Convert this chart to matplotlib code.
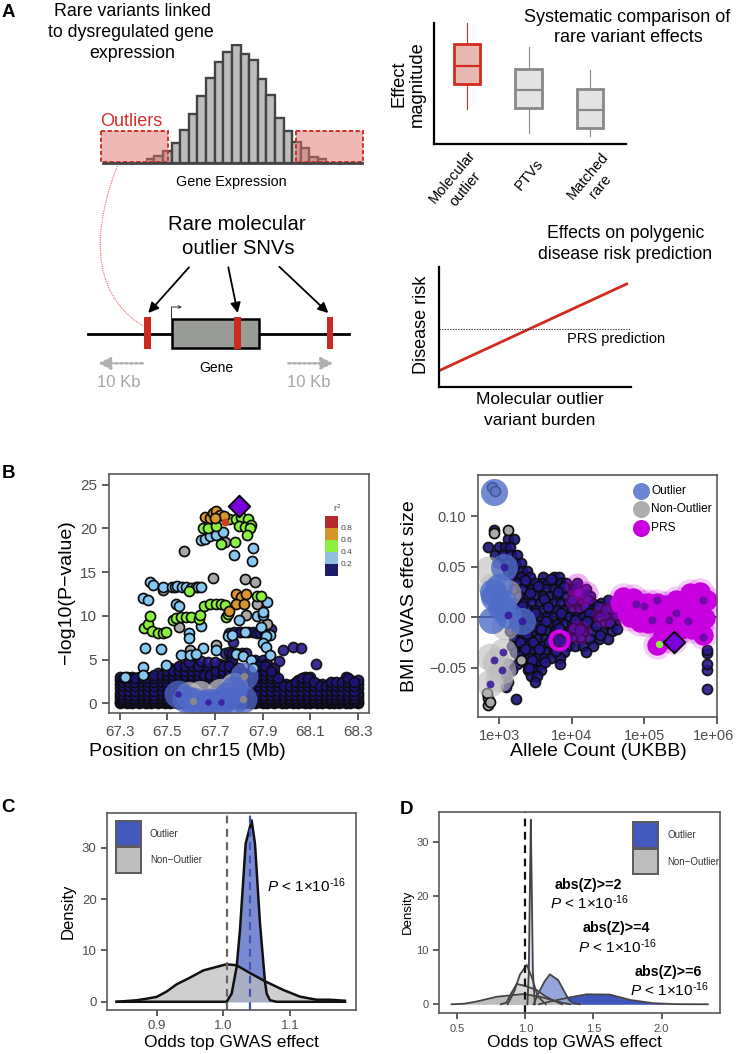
import matplotlib
matplotlib.use('Agg')
import matplotlib.pyplot as plt
from matplotlib.patches import Rectangle, PathPatch
from matplotlib.path import Path
from matplotlib.transforms import ScaledTranslation

plt.rcParams['font.family'] = ['Liberation Sans', 'DejaVu Sans']
plt.rcParams['mathtext.fontset'] = 'custom'
plt.rcParams['mathtext.rm'] = 'Liberation Sans'
plt.rcParams['mathtext.it'] = 'Liberation Sans:italic'
plt.rcParams['mathtext.bf'] = 'Liberation Sans:bold'

W, H = 736, 1054

# panel A histogram
hist_heights = [3.3, 6.7, 11.7, 20, 33, 48.7, 66.7, 84.7, 101, 110.7, 118, 109, 102.7, 83.7, 67.3, 45, 31.7, 21, 14.3, 6, 3.3]

# panel A boxes
box_labels = ['Molecular\noutlier', 'PTVs', 'Matched\nrare']
box_whishi = [0.995, 0.797, 0.608]
box_q3 = [0.822, 0.622, 0.455]
box_med = [0.641, 0.447, 0.279]
box_q1 = [0.493, 0.301, 0.132]
box_whislo = [0.29, 0.096, 0.068]

# panel A risk line
burden = [0.009, 0.979]
risk = [0.144, 0.857]
prs_level = 0.481

# panel B left, position (Mb) and -log10(P)
blue_x = [67.425, 67.44, 67.48, 67.52, 67.53, 67.54, 67.56, 67.58, 67.6, 67.62, 67.63, 67.64, 67.397, 67.42,
          67.537, 67.55, 67.407, 67.474, 67.495, 67.397, 67.395, 67.59, 67.59, 67.64, 67.65, 67.705, 67.64,
          67.66, 67.68, 67.705, 67.735, 67.78, 67.86, 67.855, 67.8, 67.755, 67.77, 67.825, 67.875, 67.9, 67.9,
          67.92, 67.895, 67.93, 67.915, 67.9, 67.915, 67.93, 67.558, 67.593, 67.62, 67.79, 67.817, 67.852,
          67.86, 67.32]
blue_y = [13.9, 13.5, 13.3, 13.3, 13.3, 13.4, 13.3, 13.3, 13.2, 13.3, 13.3, 13.3, 12.05, 11.8,
          11.3, 11.15, 6.35, 6.25, 4.4, 4.2, 3.2, 8.05, 7.5, 8.85, 6.3, 6.1, 18.7,
          18.8, 19.1, 19.2, 19.6, 16.9, 17.75, 16.25, 9.5, 7.7, 7.8, 8.1, 10.0, 10.1, 10.45,
          11.55, 8.75, 7.8, 7.7, 6.85, 6.45, 5.5, 5.5, 5.5, 5.6, 5.6, 5.4, 4.95,
          4.0, 3.0]
green_x = [67.523, 67.537, 67.555, 67.58, 67.6, 67.632, 67.635, 67.652, 67.68, 67.705, 67.727, 67.74, 67.747,
           67.755, 67.4, 67.418, 67.425, 67.436, 67.46, 67.48, 67.495, 67.59, 67.876, 67.892, 67.65, 67.67,
           67.705, 67.726, 67.783, 67.76, 67.79, 67.81, 67.84, 67.803, 67.825, 67.85, 67.846, 67.835]
green_y = [9.5, 9.7, 9.85, 9.9, 9.85, 9.6, 10.1, 11.1, 11.3, 11.35, 11.3, 11.2, 9.9,
           10.25, 8.65, 9.1, 10.0, 8.3, 8.0, 8.05, 8.15, 12.85, 12.3, 12.3, 20.0, 20.0,
           20.3, 18.25, 18.45, 21.1, 21.1, 21.3, 21.1, 20.3, 20.15, 20.35, 20.0, 19.2]
orange_x = [67.656, 67.677, 67.69, 67.705, 67.72, 67.736, 67.7, 67.79, 67.81, 67.83, 67.79, 67.82, 67.76]
orange_y = [21.3, 21.2, 21.7, 22.0, 21.5, 21.35, 21.2, 12.55, 12.2, 12.45, 11.4, 11.3, 10.55]
red_x = [67.742]
red_y = [20.75]
gray_x = [67.568, 67.69, 67.825, 67.87, 67.48, 67.55, 67.705, 67.83, 67.876, 67.596, 67.92, 67.74]
gray_y = [17.45, 14.35, 14.2, 13.9, 12.9, 8.75, 6.65, 10.1, 11.3, 6.1, 9.1, 18.45]
navy_x = [67.986, 68.03, 68.063, 68.126, 67.97, 67.775, 67.935, 67.76, 67.78, 67.8, 67.81, 67.84, 67.86,
          67.875, 67.89, 67.91, 67.74, 67.76, 67.77, 67.79, 67.815, 67.83, 67.59, 67.64, 67.67, 67.7]
navy_y = [6.15, 6.4, 6.3, 4.55, 4.85, 7.0, 8.55, 8.0, 8.1, 8.1, 8.2, 8.2, 8.1,
          8.0, 8.0, 7.9, 5.8, 5.9, 5.8, 5.8, 5.8, 5.7, 4.7, 4.8, 4.7, 4.7]
mass_x = [67.30, 67.33, 67.35, 67.38, 67.41, 67.43, 67.46, 67.49, 67.51, 67.54, 67.56, 67.59, 67.62, 67.64,
          67.67, 67.69, 67.72, 67.75, 67.77, 67.80, 67.82, 67.85, 67.87, 67.90, 67.92, 67.95, 67.98, 68.0,
          68.03, 68.05, 68.08, 68.1, 68.13, 68.15, 68.18, 68.2, 68.22, 68.25, 68.27, 68.3]
mass_top = [3, 3, 3, 3, 3, 3.3, 3.8, 3.8, 4.2, 4.4, 4.4, 4.2, 4.6, 4.2,
            4.0, 3.5, 4.6, 4.8, 5.0, 4.2, 3.5, 3.5, 5, 5, 4.8, 4.2, 2.5, 2.2,
            2.5, 2.8, 3.1, 3.1, 2.6, 2.4, 2.4, 2.6, 2.6, 3.0, 2.9, 2.9]
mass_levels = [0, 0.2, 0.5, 0.8, 1.2, 1.7, 2.2, 2.7, 3.0, 3.5, 4.0, 4.5, 5.0]
mass2_x = [67.315, 67.34, 67.365, 67.395, 67.42, 67.445, 67.475, 67.5, 67.525, 67.55, 67.575, 67.605, 67.63, 67.655,
           67.68, 67.705, 67.735, 67.76, 67.785, 67.81, 67.835, 67.86, 67.885, 67.91, 67.935, 67.965, 67.99, 68.015,
           68.04, 68.065, 68.09, 68.115, 68.14, 68.165, 68.19, 68.21, 68.235, 68.26, 68.285]
mass2_top = [2.9, 2.9, 2.9, 2.9, 3.0, 3.4, 3.7, 4.0, 4.2, 4.3, 4.3, 4.3, 4.4, 3.7,
             3.5, 3.8, 4.4, 4.6, 4.2, 3.0, 3.0, 3.6, 4.7, 4.7, 4.0, 3.0, 2.2, 2.3,
             2.6, 3.0, 3.0, 2.8, 2.4, 2.3, 2.5, 2.5, 2.7, 2.9, 2.8]
mass2_levels = [0.1, 0.35, 0.65, 1.0, 1.45, 1.95, 2.45, 2.85, 3.25, 3.75, 4.25]
big_out_x = [67.544, 67.58, 67.607, 67.65, 67.674, 67.7, 67.726, 67.75, 67.775, 67.817, 67.824, 67.775]
big_out_y = [1.05, 0.5, 0.3, -0.1, 0.2, 0.0, 0.1, 0.8, 0.3, 0.5, 3.15, 1.5]
big_non_x = [67.635, 67.72, 67.59, 67.78]
big_non_y = [1.1, 1.3, 1.0, 2.0]
lead_pos = [67.8]
lead_p = [22.6]
inner_navy_x = [67.544, 67.67, 67.726]
inner_navy_y = [1.05, 0.2, 0.1]
inner_gray_x = [67.824, 67.817, 67.607]
inner_gray_y = [3.15, 0.5, 0.3]
r2_labels = ['0.8', '0.6', '0.4', '0.2']
r2_colors = ['#1F1B6B', '#8FBFDC', '#8CF040', '#D8952B', '#B2292E']

# panel B right, log10(allele count) and effect size
funnel_y = [0.086, 0.078, 0.07, 0.062, 0.054, 0.046, 0.04, 0.034, 0.028, 0.021, 0.014, 0.007, 0.0,
            -0.007, -0.014, -0.021, -0.028, -0.034, -0.04, -0.046, -0.052, -0.058, -0.064, -0.069, -0.0805]
funnel_logx = [
    [2.93], [3.12, 3.2], [2.85, 3.0, 3.08, 3.15], [2.95, 3.05, 3.17, 3.25], [2.98, 3.13, 3.22, 3.3],
    [3.12, 3.2, 3.32, 3.38], [3.2, 3.3, 3.42, 3.6, 3.75, 3.82],
    [3.25, 3.38, 3.5, 3.6, 3.68, 3.78, 3.85, 3.92, 4.07],
    [3.2, 3.32, 3.45, 3.55, 3.65, 3.75, 3.85, 3.95, 4.05, 4.2],
    [3.28, 3.4, 3.5, 3.6, 3.7, 3.8, 3.9, 4.02, 4.12, 4.25],
    [3.22, 3.35, 3.46, 3.56, 3.66, 3.76, 3.86, 3.96, 4.06, 4.16, 4.28, 4.4, 4.52],
    [3.3, 3.4, 3.5, 3.6, 3.7, 3.8, 3.9, 4.0, 4.1, 4.2, 4.3, 4.42, 4.55],
    [3.25, 3.35, 3.46, 3.56, 3.66, 3.76, 3.86, 3.96, 4.06, 4.16, 4.28, 4.38, 4.5, 4.6],
    [3.2, 3.3, 3.4, 3.5, 3.6, 3.7, 3.8, 3.9, 4.0, 4.1, 4.2, 4.3, 4.45, 4.6],
    [3.15, 3.25, 3.37, 3.47, 3.57, 3.67, 3.77, 3.87, 3.97, 4.07, 4.17, 4.28, 4.42, 4.55],
    [3.2, 3.33, 3.43, 3.53, 3.63, 3.73, 3.83, 3.93, 4.03, 4.13, 4.25, 4.38, 4.5],
    [3.18, 3.28, 3.4, 3.5, 3.6, 3.7, 3.8, 3.95, 4.05, 4.15, 4.3],
    [3.22, 3.33, 3.45, 3.55, 3.66, 3.76, 3.9, 4.2],
    [3.3, 3.42, 3.52, 3.62, 3.72, 3.84],
    [3.12, 3.25, 3.38, 3.48, 3.58, 3.84],
    [3.18, 3.4, 3.5, 3.58],
    [3.1, 3.44, 3.52],
    [3.495, 3.12],
    [3.1],
    [3.24],
]
extra_logx = [3.36, 3.53, 3.71, 3.89, 4.09, 4.23, 3.43, 3.62, 3.81, 4.01, 4.18, 4.36, 3.31, 3.49, 3.68, 3.86, 4.04,
              4.24, 4.47, 3.26, 3.44, 3.64, 3.83, 4.02, 4.21, 4.34, 3.39, 3.58, 3.74, 3.92, 4.11, 3.29, 3.47, 3.69,
              3.88, 3.36, 3.55, 3.79, 3.28, 3.46, 3.63, 3.41, 4.53, 4.62, 4.39, 4.5]
extra_y = [0.037, 0.031, 0.038, 0.03, 0.025, 0.017, 0.024, 0.018, 0.025, 0.017, 0.01, 0.011, 0.011, 0.004, 0.01,
           0.004, -0.003, 0.004, 0.008, -0.003, -0.01, -0.004, -0.011, -0.011, -0.004, -0.009, -0.017, -0.012,
           -0.018, -0.018, -0.012, -0.024, -0.024, -0.024, -0.024, -0.031, -0.031, -0.033, -0.038, -0.042, -0.044,
           -0.05, -0.006, -0.012, -0.018, 0.017]
gray_pt_logx = [2.93, 3.12, 2.85, 2.83, 2.85, 2.87, 3.3]
gray_pt_y = [0.083, 0.086, -0.08, -0.075, -0.087, -0.084, -0.042]
tail_logx = [5.86, 5.86, 5.86, 5.86, 5.86]
tail_y = [-0.071, -0.052, -0.046, -0.0356, -0.032]
top_logx = [2.91, 2.94]
top_y = [0.129, 0.125]
prs_logx = [4.71, 4.85, 4.94, 5.03, 5.17, 5.35, 5.49, 5.63, 5.76, 5.86, 5.83, 5.81, 5.17, 5.40, 4.94, 4.80,
            5.58, 5.58, 5.40, 5.26, 5.17, 4.66, 4.76, 5.44, 5.72, 5.3, 4.85, 5.05, 5.1, 5.25, 5.3, 5.5, 5.65,
            5.5, 5.65, 5.7, 5.75, 5.05, 5.25]
prs_y = [0.0204, 0.0188, 0.0139, 0.0089, 0.0006, 0.0072, 0.0072, 0.0238, 0.0253, 0.0171, -0.001, -0.0175,
         -0.0274, -0.0225, -0.0044, 0.0006, 0.0139, -0.0059, -0.0059, -0.0093, 0.0139, 0.0139, 0.004, 0.0171,
         0.004, -0.02, 0.008, 0.014, 0.0, 0.0, 0.012, 0.0, 0.01, -0.012, -0.012, 0.018, -0.008, -0.006, -0.018]
faint_logx = [4.07, 4.2, 4.07, 4.1, 4.44]
faint_y = [0.032, 0.0238, 0.017, -0.015, 0.0023]
ring_logx = [3.83]
ring_y = [-0.0228]
on_prs_logx = [4.07, 4.2, 4.1, 4.44, 5.17, 5.1, 5.34, 5.6, 5.81, 5.44, 4.88, 5.0, 5.81]
on_prs_y = [0.032, 0.0238, -0.015, 0.0023, 0.017, -0.003, -0.003, -0.0036, -0.019, 0.004, 0.013, 0.011, 0.017]
out_logx = [2.93, 3.073, 2.92, 3.06, 2.9, 3.12, 3.31, 2.93, 3.0, 3.03]
out_y = [0.1244, 0.05, 0.0254, 0.014, -0.0026, 0.0023, -0.0036, 0.02, 0.03, 0.01]
non_logx = [2.853, 3.105, 3.08, 3.06, 2.876, 3.037, 2.876, 2.9, 2.96, 3.0]
non_y = [0.047, 0.024, -0.009, -0.034, -0.039, -0.052, -0.065, 0.03, -0.044, -0.06]
big_inner_logx = [3.073, 3.12, 3.31, 3.06, 3.037, 2.88, 2.93]
big_inner_y = [0.05, 0.0023, -0.0036, -0.034, -0.052, -0.066, -0.042]
green_dot = ([5.2], [-0.0267])
lead_logx = [5.41]
lead_beta = [-0.0244]

# panel C densities
c_non_x = [0.84, 0.87, 0.885, 0.90, 0.915, 0.93, 0.95, 0.97, 0.99, 1.005, 1.02, 1.04, 1.0625, 1.09, 1.115, 1.14, 1.16, 1.1825]
c_non_y = [0, 0.3, 0.6, 0.95, 2.0, 3.4, 4.7, 6.1, 6.8, 7.3, 7.1, 5.6, 4.0, 2.3, 1.0, 0.4, 0.4, 0.2]
c_out_x = [0.84, 1.005, 1.0125, 1.02, 1.025, 1.0335, 1.0375, 1.0425, 1.0475, 1.055, 1.0625, 1.065, 1.07, 1.08, 1.1825]
c_out_y = [0, 0, 1.6, 6.8, 14, 30.8, 32.8, 35.3, 30.8, 15.3, 3.9, 1.6, 0.3, 0, 0]

# panel D densities, three thresholds
d_z2_out_x = [1.015, 1.025, 1.035, 1.04, 1.045, 1.055, 1.07]
d_z2_out_y = [0, 6, 25, 34.2, 25, 6, 0]
d_z2_non_x = [0.87, 0.92, 0.96, 1.01, 1.05, 1.09, 1.15]
d_z2_non_y = [0, 2.5, 5.5, 7.3, 4.8, 1.5, 0]
d_z4_out_x = [1.06, 1.095, 1.14, 1.18, 1.24, 1.32, 1.35, 1.4]
d_z4_out_y = [0, 2.0, 4.2, 5.55, 4.5, 0.8, 0.2, 0]
d_z4_non_x = [0.82, 0.86, 0.9, 0.936, 1.0, 1.083, 1.14, 1.19, 1.27]
d_z4_non_y = [0, 0.3, 2.2, 3.77, 3.4, 2.65, 1.6, 0.9, 0]
d_z6_out_x = [1.1, 1.18, 1.33, 1.45, 1.62, 1.77, 1.94, 2.1, 2.34]
d_z6_out_y = [0, 0.5, 1.3, 1.85, 1.8, 0.8, 0.2, 0.03, 0]
d_z6_non_x = [0.458, 0.55, 0.64, 0.79, 0.985, 1.11, 1.23, 1.33]
d_z6_non_y = [0, 0.1, 0.5, 1.4, 1.9, 1.4, 0.5, 0]


fig = plt.figure(figsize=(W / 100, H / 100), dpi=100)


def px_axes(left, top, right, bottom):
    return fig.add_axes([left / W, 1 - bottom / H, (right - left) / W, (bottom - top) / H])


def style_panel(ax):
    for s in ax.spines.values():
        s.set_color('#5A5A5A')
        s.set_linewidth(1.2)
    ax.tick_params(colors='#333333', labelcolor='#4D4D4D', width=1.1)


# histogram
ax = px_axes(145.7, 44, 326.7, 162.7)
ax.bar(range(len(hist_heights)), hist_heights, width=1, align='edge', color='#BDBDBD', edgecolor='#444444', lw=1.7)
ax.set_xlim(0, len(hist_heights))
ax.set_ylim(0, 118.7)
ax.axis('off')

# boxes
ax = px_axes(434.3, 22.7, 625.7, 144.3)
stats = []
for i in range(3):
    stats.append({'whishi': box_whishi[i], 'q3': box_q3[i], 'med': box_med[i], 'q1': box_q1[i], 'whislo': box_whislo[i]})
parts = ax.bxp(stats, positions=[1, 2, 3], widths=0.434, showcaps=False, showfliers=False, patch_artist=True)
box_edge = ['#D12B1F', '#888888', '#888888']
box_fill = ['#E8B8B2', '#E3E3E3', '#E3E3E3']
for i in range(3):
    parts['boxes'][i].set(facecolor=box_fill[i], edgecolor=box_edge[i], linewidth=2)
    parts['medians'][i].set(color=box_edge[i], linewidth=1.6)
    for w in parts['whiskers'][2 * i:2 * i + 2]:
        w.set(color=box_edge[i], linewidth=0.8)
ax.set_xlim(0.467, 3.58)
ax.set_ylim(0, 1)
ax.spines[['top', 'right']].set_visible(False)
ax.spines[['left', 'bottom']].set_linewidth(1.6)
ax.set_xticks([])
ax.set_yticks([])

# risk line
ax = px_axes(439, 266.7, 630.7, 387.3)
ax.plot(burden, risk, color='#D12B1F', lw=2)
ax.axhline(prs_level, color='#333333', lw=0.8, ls=(0, (1.2, 1.2)))
ax.set_xlim(0, 1)
ax.set_ylim(0, 1)
ax.spines[['top', 'right']].set_visible(False)
ax.spines[['left', 'bottom']].set_linewidth(1.6)
ax.set_xticks([])
ax.set_yticks([])

# B left
ax = px_axes(109, 474, 369, 713)
style_panel(ax)
pt = dict(s=52, linewidths=1.25, edgecolors='#0C0C0C')
mx, my = [], []
for xs, tops, levels in [(mass_x, mass_top, mass_levels), (mass2_x, mass2_top, mass2_levels)]:
    for x, top in zip(xs, tops):
        for lev in levels:
            if lev <= top:
                mx.append(x)
                my.append(lev)
ax.scatter(mx, my, c='#1E1478', alpha=0.92, **pt)
ax.scatter(navy_x, navy_y, c='#26188A', alpha=0.9, **pt)
ax.scatter(gray_x, gray_y, c='#A8A8A8', **pt)
ax.scatter(blue_x, blue_y, c='#86C8F2', **pt)
ax.scatter(green_x, green_y, c='#8CF040', **pt)
ax.scatter(orange_x, orange_y, c='#D8952B', **pt)
ax.scatter(red_x, red_y, c='#C8401F', s=32, linewidths=0)
ax.scatter(big_non_x, big_non_y, c='#BDBDBD', s=380, alpha=0.75, linewidths=0)
ax.scatter(big_out_x, big_out_y, c='#4F68C8', s=400, alpha=0.75, linewidths=0)
ax.scatter(inner_navy_x, inner_navy_y, c='#34149A', s=22, alpha=0.8, linewidths=0)
ax.scatter(inner_gray_x, inner_gray_y, c='#888888', s=28, linewidths=0)
ax.scatter(lead_pos, lead_p, marker='D', c='#7A00E0', s=120, edgecolors='black', linewidths=1.4, zorder=5)
ax.set_xlim(67.254, 68.348)
ax.set_ylim(-1.1, 26.2)
ax.set_xticks([67.3, 67.5, 67.7, 67.9, 68.1, 68.3])
ax.set_xticklabels(['67.3', '67.5', '67.7', '67.9', '68.1', '68.3'])
ax.set_yticks([0, 5, 10, 15, 20, 25])
ax.tick_params(labelsize=11, length=5)

# r2 colour key
key = px_axes(325, 516, 338, 576)
key.bar([0, 0, 0, 0, 0], [1, 1, 1, 1, 1], bottom=[0, 1, 2, 3, 4], width=1, color=r2_colors)
key.set_xlim(-0.5, 0.5)
key.set_ylim(0, 5)
key.axis('off')

# B right
ax = px_axes(478.3, 475, 717, 716.7)
style_panel(ax)
ax.axhline(0, color='#222222', lw=1.4, zorder=0)
fx, fy = [], []
for y, row in zip(funnel_y, funnel_logx):
    for lx in row:
        fx.append(10 ** lx)
        fy.append(y)
ax.scatter(fx, fy, c='#1E1478', alpha=0.92, **pt)
ax.scatter([10 ** v for v in extra_logx], extra_y, c='#26188A', alpha=0.92, **pt)
ax.scatter([10 ** v for v in tail_logx], tail_y, c='#26188A', alpha=0.9, **pt)
ax.scatter([10 ** v for v in gray_pt_logx], gray_pt_y, c='#A8A8A8', **pt)
ax.scatter([10 ** v for v in top_logx], top_y, c='#A8A8A8', **pt)
ax.scatter([10 ** v for v in faint_logx], faint_y, c='#C800E0', s=300, alpha=0.3, linewidths=0)
ax.scatter([10 ** v for v in prs_logx], prs_y, c='#C800E0', s=420, alpha=0.18, linewidths=0)
ax.scatter([10 ** v for v in prs_logx], prs_y, c='#C800E0', s=215, linewidths=0)
ax.scatter([10 ** v for v in ring_logx], ring_y, facecolors=(0.78, 0, 0.88, 0.25), edgecolors='#D800E8', s=170, linewidths=3)
ax.scatter([10 ** v for v in non_logx], non_y, c='#BDBDBD', s=400, alpha=0.6, linewidths=0)
ax.scatter([10 ** v for v in out_logx], out_y, c='#4F6CC8', s=380, alpha=0.8, linewidths=0)
ax.scatter([10 ** v for v in big_inner_logx], big_inner_y, c='#34149A', s=32, alpha=0.85, linewidths=0)
ax.scatter([10 ** v for v in ring_logx], ring_y, c='#34149A', s=32, linewidths=0)
ax.scatter([10 ** v for v in on_prs_logx], on_prs_y, c='#5A0C9C', s=34, alpha=0.8, linewidths=0)
ax.scatter([10 ** v for v in green_dot[0]], green_dot[1], c='#8CF040', s=28, linewidths=0)
ax.scatter([10 ** v for v in lead_logx], lead_beta, marker='D', c='#7A00E0', s=120, edgecolors='black', linewidths=1.4, zorder=5)
ax.set_xscale('log')
ax.set_xlim(10 ** 2.715, 1e6)
ax.set_ylim(-0.0984, 0.1409)
ax.set_xticks([1e3, 1e4, 1e5, 1e6])
ax.set_xticklabels(['1e+03', '1e+04', '1e+05', '1e+06'])
ax.minorticks_off()
ax.set_yticks([-0.05, 0, 0.05, 0.10])
ax.set_yticklabels(['\u22120.05', '0.00', '0.05', '0.10'])
ax.tick_params(labelsize=10.5, length=5)
last = ax.get_xticklabels()[-1]
last.set_transform(last.get_transform() + ScaledTranslation(-4 / 100, 0, fig.dpi_scale_trans))

# C
ax = px_axes(107, 812.7, 356.3, 1010)
style_panel(ax)
ax.fill_between(c_out_x, c_out_y, color='#4359BE', alpha=0.7, lw=0)
ax.plot(c_out_x, c_out_y, color='#111111', lw=1.8)
ax.fill_between(c_non_x, c_non_y, color='#BDBDBD', alpha=0.72, lw=0)
ax.plot(c_non_x, c_non_y, color='#111111', lw=1.8)
ax.axvline(1.006, color='#666666', lw=1.6, ls=(0, (3.5, 2.5)))
ax.axvline(1.04, color='#3F55BE', lw=1.6, ls=(0, (3.5, 2.5)))
ax.set_xlim(0.8255, 1.1995)
ax.set_ylim(-1.6, 36.8)
ax.set_xticks([0.9, 1.0, 1.1])
ax.set_yticks([0, 10, 20, 30])
ax.tick_params(labelsize=9.5, length=4)

# D
ax = px_axes(439.3, 811.7, 720, 1013.3)
style_panel(ax)
line = dict(color='#444444', lw=1.3)
ax.fill_between(d_z6_out_x, d_z6_out_y, color='#3F55BE', lw=0)
ax.plot(d_z6_out_x, d_z6_out_y, **line)
ax.fill_between(d_z4_out_x, d_z4_out_y, color='#96A5DC', lw=0)
ax.plot(d_z4_out_x, d_z4_out_y, **line)
ax.fill_between(d_z2_out_x, d_z2_out_y, color='#E0E4F4', lw=0)
ax.plot(d_z2_out_x, d_z2_out_y, **line)
ax.fill_between(d_z2_non_x, d_z2_non_y, color='#E5E5E5', alpha=0.8, lw=0)
ax.plot(d_z2_non_x, d_z2_non_y, **line)
ax.fill_between(d_z4_non_x, d_z4_non_y, color='#D5D5D5', alpha=0.9, lw=0)
ax.plot(d_z4_non_x, d_z4_non_y, **line)
ax.fill_between(d_z6_non_x, d_z6_non_y, color='#BDBDBD', lw=0)
ax.plot(d_z6_non_x, d_z6_non_y, **line)
ax.axvline(1.0, color='#111111', lw=1.6, ls=(0, (3.5, 2.5)))
ax.set_xlim(0.368, 2.429)
ax.set_ylim(-1.67, 35.7)
ax.set_xticks([0.5, 1.0, 1.5, 2.0])
ax.set_yticks([0, 10, 20, 30])
ax.tick_params(labelsize=8, length=4)

# everything positioned by pixel goes on one overlay
ov = fig.add_axes([0, 0, 1, 1], zorder=10)
ov.set_xlim(0, W)
ov.set_ylim(H, 0)
ov.axis('off')
ov.patch.set_alpha(0)


def txt(x, y, s, size, **kw):
    kw.setdefault('ha', 'center')
    kw.setdefault('va', 'center')
    ov.text(x, y, s, fontsize=size, **kw)


for letter, x, y in [('A', 1.5, 12.5), ('B', 1.5, 473), ('C', 1.5, 808), ('D', 400, 809.5)]:
    txt(x, y, letter, 13.5, ha='left', fontweight='bold')

txt(132, 11.7, 'Rare variants linked', 12.8)
txt(130.7, 32.3, 'to dysregulated gene', 12.8)
txt(132.3, 53.3, 'expression', 12.8)
txt(131.7, 121, 'Outliers', 13, color='#D32F2B')
txt(231.7, 181.7, 'Gene Expression', 10.4)

# baseline and outlier windows
ov.plot([103, 362], [162.7, 162.7], color='#444444', lw=2)
for x0, x1 in [(101, 168.3), (296, 363.3)]:
    ov.add_patch(Rectangle((x0, 131), x1 - x0, 31.3, facecolor=(0.89, 0.45, 0.42, 0.5), edgecolor='#D32F2B', lw=1.4, ls=(0, (2.2, 1.2))))

# link to the gene model
curve = Path([(118, 164), (96, 220), (85, 290), (143, 326)], [Path.MOVETO, Path.CURVE4, Path.CURVE4, Path.CURVE4])
ov.add_patch(PathPatch(curve, fill=False, edgecolor='#E2645C', lw=0.8, ls=(0, (1, 1))))

txt(236.7, 224.3, 'Rare molecular', 14.6)
txt(238.3, 248.3, 'outlier SNVs', 14.6)
ov.plot([88.3, 349.3], [334, 334], color='black', lw=2, zorder=1)
ov.add_patch(Rectangle((172, 319.3), 87, 29, facecolor='#999B98', edgecolor='black', lw=1.8, zorder=2))
for x0 in [144, 234.3, 326.7]:
    ov.add_patch(Rectangle((x0, 316.7), 6.7, 32.3, facecolor='#CC2A1E', edgecolor='none', zorder=3))
for start, end in [((189, 267.3), (148.3, 313)), ((228.3, 267.3), (237.7, 313)), ((279.3, 266.7), (328.3, 313))]:
    ov.annotate('', xy=end, xytext=start, arrowprops=dict(arrowstyle='-|>', color='black', lw=1.3, mutation_scale=15, shrinkA=0, shrinkB=0))
ov.plot([171.3, 171.3], [319, 307], color='#333333', lw=0.7)
ov.annotate('', xy=(182, 307), xytext=(171.3, 307), arrowprops=dict(arrowstyle='->', color='#333333', lw=0.7, mutation_scale=5, shrinkA=0, shrinkB=0))
for start, end, x in [((142.7, 363.3), (98.3, 363.3), 119), ((288.3, 363.3), (333.3, 363.3), 308.3)]:
    ov.annotate('', xy=end, xytext=start, arrowprops=dict(arrowstyle='-|>', color='#B0B0B0', lw=1.8, ls=(0, (1, 1)), mutation_scale=18, shrinkA=0, shrinkB=0))
    txt(x, 382.3, '10 Kb', 12, color='#A6A6A6')
txt(216.7, 368.3, 'Gene', 10)

txt(626.7, 17.3, 'Systematic comparison of', 13)
txt(628, 37.7, 'rare variant effects', 13)
txt(408, 84, 'Effect\nmagnitude', 13.2, rotation=90, linespacing=1.05)
txt(459, 183, box_labels[0], 10.5, rotation=50, linespacing=1.3)
txt(529.3, 175, box_labels[1], 10.5, rotation=50)
txt(594, 181, box_labels[2], 10.5, rotation=50, linespacing=1.3)

txt(625.7, 234, 'Effects on polygenic', 12.7)
txt(625, 254.3, 'disease risk prediction', 12.7)
txt(616, 339, 'PRS prediction', 10.5)
txt(421.7, 325, 'Disease risk', 13, rotation=90)
txt(540, 400, 'Molecular outlier', 12.5)
txt(540, 420.7, 'variant burden', 12.5)

txt(67, 592, '\u2212log10(P\u2212value)', 14, rotation=90)
txt(187, 752, 'Position on chr15 (Mb)', 14)
txt(410, 596, 'BMI GWAS effect size', 14, rotation=90)
txt(598, 752, 'Allele Count (UKBB)', 14)

txt(337.5, 508, 'r$^{2}$', 6.5, color='#444444')
for lab, y in zip(r2_labels, [528, 540, 552, 564]):
    txt(341, y, lab, 6, ha='left', color='#444444')

for y, lab, col in [(490.7, 'Outlier', '#6C84D4'), (509, 'Non-Outlier', '#ADADAD'), (527.7, 'PRS', '#C800E0')]:
    ov.scatter([640.7], [y], s=150, c=col, linewidths=0)
    txt(651, y, lab, 8.6, ha='left')

txt(68, 911.7, 'Density', 12, rotation=90)
txt(231.7, 1043, 'Odds top GWAS effect', 12.5)
txt(407.7, 911.7, 'Density', 9.5, rotation=90)
txt(574, 1043, 'Odds top GWAS effect', 12.5)

for x0, ys, tx in [(115.7, (820.7, 847.3), 150), (632.7, (822.3, 849), 667.3)]:
    ov.add_patch(Rectangle((x0, ys[0]), 25, 25.3, facecolor='#4359BE', edgecolor='#5A5A5A', lw=1.4))
    ov.add_patch(Rectangle((x0, ys[1]), 25, 25.3, facecolor='#BDBDBD', edgecolor='#5A5A5A', lw=1.4))
    txt(tx, ys[0] + 13, 'Outlier', 7, ha='left', color='#333333')
    txt(tx, ys[1] + 13, 'Non\u2212Outlier', 7, ha='left', color='#333333')

p_text = r'$\mathit{P}$ < 1×10$^{\mathrm{\text{-}16}}$'
txt(266.7, 885.7, p_text, 11, ha='left')
for lab, x, y in [('abs(Z)>=2', 588, 885), ('abs(Z)>=4', 616, 928.3), ('abs(Z)>=6', 668.7, 971.7)]:
    txt(x, y, lab, 10.3, fontweight='bold')
    txt(x + 1, y + 18, p_text, 11)

plt.savefig('out.png', dpi=100)
